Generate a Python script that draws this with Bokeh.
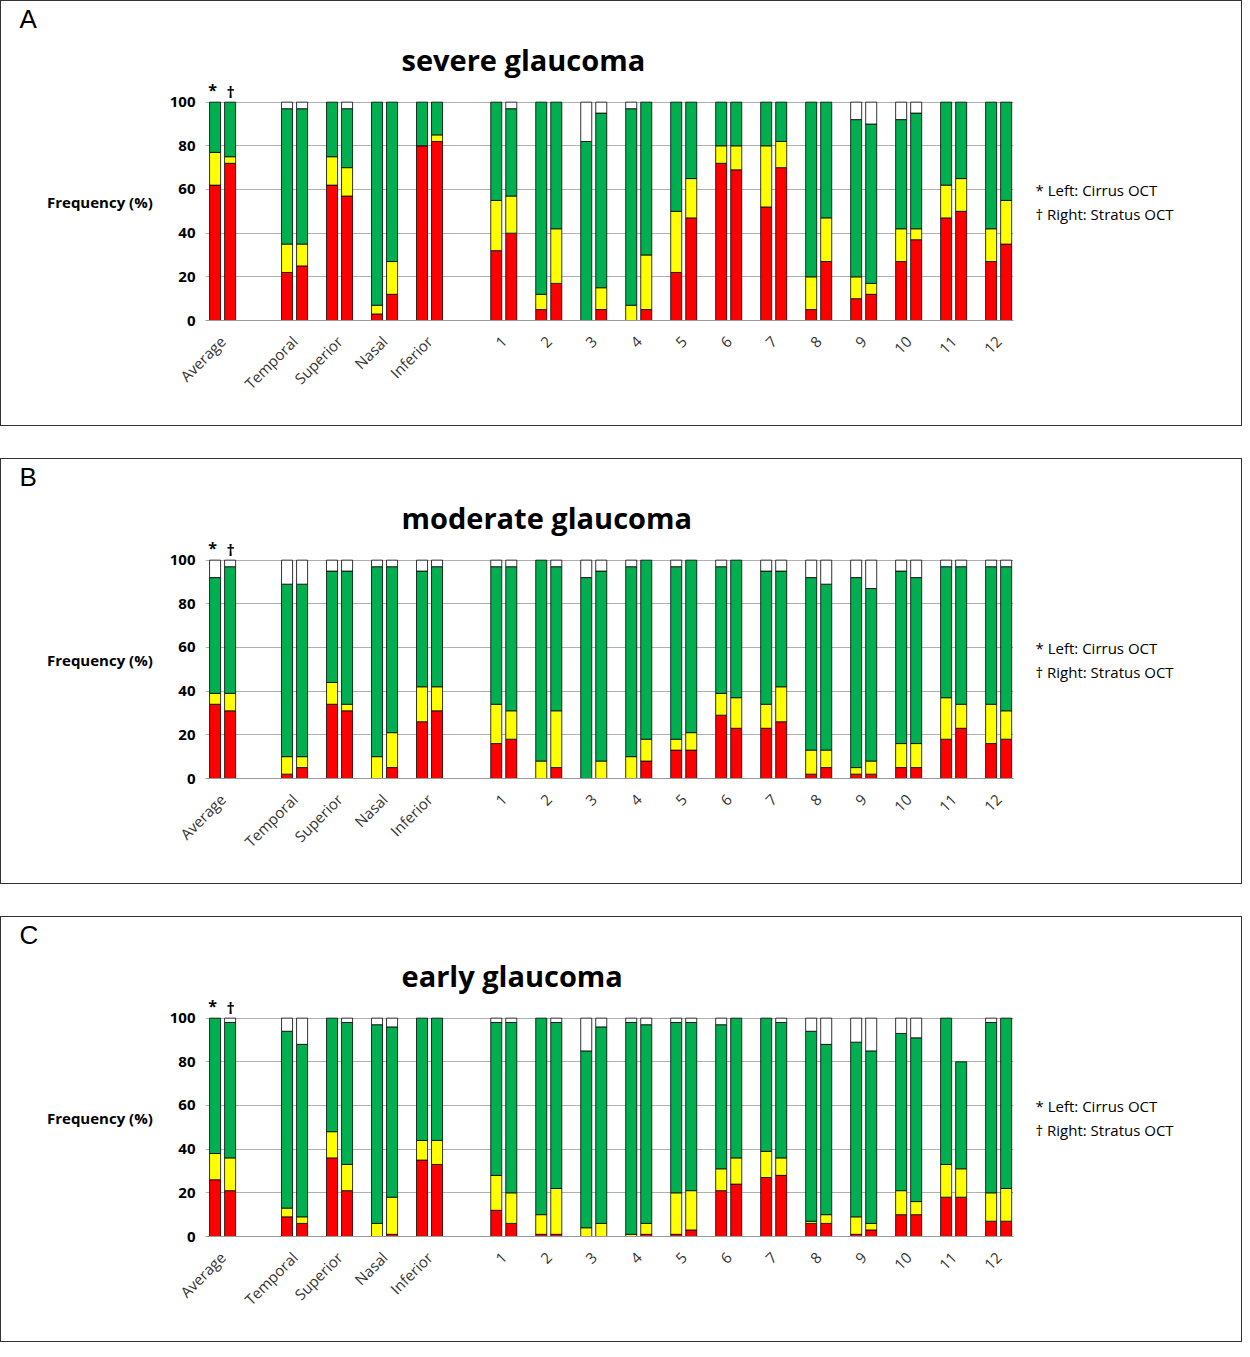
from bokeh.plotting import figure
from bokeh.layouts import column
from bokeh.models import ColumnDataSource, Label, FixedTicker, LinearAxis, Title
from bokeh.embed import file_html
from bokeh.resources import INLINE
import math

categories = ["Average", "Temporal", "Superior", "Nasal", "Inferior",
              "1", "2", "3", "4", "5", "6", "7", "8", "9", "10", "11", "12"]

# cumulative tops (%): red, red+yellow, red+yellow+green, total
sev_cir_red = [62, 22, 62, 3, 80, 32, 5, 0, 0, 22, 72, 52, 5, 10, 27, 47, 27]
sev_cir_ylw = [77, 35, 75, 7, 80, 55, 12, 0, 7, 50, 80, 80, 20, 20, 42, 62, 42]
sev_cir_grn = [100, 97, 100, 100, 100, 100, 100, 82, 97, 100, 100, 100, 100, 92, 92, 100, 100]
sev_str_red = [72, 25, 57, 12, 82, 40, 17, 5, 5, 47, 69, 70, 27, 12, 37, 50, 35]
sev_str_ylw = [75, 35, 70, 27, 85, 57, 42, 15, 30, 65, 80, 82, 47, 17, 42, 65, 55]
sev_str_grn = [100, 97, 97, 100, 100, 97, 100, 95, 100, 100, 100, 100, 100, 90, 95, 100, 100]

mod_cir_red = [34, 2, 34, 0, 26, 16, 0, 0, 0, 13, 29, 23, 2, 2, 5, 18, 16]
mod_cir_ylw = [39, 10, 44, 10, 42, 34, 8, 0, 10, 18, 39, 34, 13, 5, 16, 37, 34]
mod_cir_grn = [92, 89, 95, 97, 95, 97, 100, 92, 97, 97, 97, 95, 92, 92, 95, 97, 97]
mod_str_red = [31, 5, 31, 5, 31, 18, 5, 0, 8, 13, 23, 26, 5, 2, 5, 23, 18]
mod_str_ylw = [39, 10, 34, 21, 42, 31, 31, 8, 18, 21, 37, 42, 13, 8, 16, 34, 31]
mod_str_grn = [97, 89, 95, 97, 97, 97, 97, 95, 100, 100, 100, 95, 89, 87, 92, 97, 97]

ear_cir_red = [26, 9, 36, 0, 35, 12, 1, 0, 0, 1, 21, 27, 6, 1, 10, 18, 7]
ear_cir_ylw = [38, 13, 48, 6, 44, 28, 10, 4, 1, 20, 31, 39, 7, 9, 21, 33, 20]
ear_cir_grn = [100, 94, 100, 97, 100, 98, 100, 85, 98, 98, 97, 100, 94, 89, 93, 100, 98]
ear_str_red = [21, 6, 21, 1, 33, 6, 1, 0, 1, 3, 24, 28, 6, 3, 10, 18, 7]
ear_str_ylw = [36, 9, 33, 18, 44, 20, 22, 6, 6, 21, 36, 36, 10, 6, 16, 31, 22]
ear_str_grn = [98, 88, 98, 96, 100, 98, 98, 96, 97, 98, 100, 98, 88, 85, 91, 80, 100]
ear_str_tot = [100] * 15 + [80, 100]

xpos = [0, 1.6, 2.6, 3.6, 4.6] + [6.25 + i for i in range(12)]
colors = ["#ff0000", "#ffff00", "#00b050", "#ffffff"]


def panel(letter, title, cir, stra, cir_tot, str_tot):
    p = figure(width=1242, height=426, x_range=(-0.38, 17.58), y_range=(0, 109),
               output_backend="svg", toolbar_location=None,
               min_border_left=204, min_border_right=230,
               min_border_top=74, min_border_bottom=107)
    p.styles = {"border": "1px solid #333"}
    p.outline_line_color = None
    p.xgrid.grid_line_color = None
    p.ygrid.grid_line_color = "#b0b0b0"
    p.ygrid.ticker = FixedTicker(ticks=[20, 40, 60, 80, 100])
    for series, tot, off in ((cir, cir_tot, -0.167), (stra, str_tot, 0.167)):
        red, ylw, grn = series
        levels = [[0] * len(red), red, ylw, grn, tot]
        for k in range(4):
            xs, bs, ts = [], [], []
            for i in range(len(red)):
                if levels[k + 1][i] > levels[k][i]:
                    xs.append(xpos[i] + off)
                    bs.append(levels[k][i])
                    ts.append(levels[k + 1][i])
            src = ColumnDataSource(dict(x=xs, bottom=bs, top=ts))
            p.vbar(x="x", bottom="bottom", top="top", width=0.245, source=src,
                   fill_color=colors[k], line_color="black", line_width=0.8)
    p.xaxis.ticker = FixedTicker(ticks=xpos)
    p.xaxis.major_label_overrides = {x: c for x, c in zip(xpos, categories)}
    p.xaxis.major_label_orientation = math.pi / 4
    p.xaxis.major_label_text_font = "Open Sans"
    p.xaxis.major_label_text_font_size = "15px"
    p.xaxis.major_label_text_color = "#333"
    p.xaxis.major_tick_line_color = None
    p.xaxis.axis_line_color = "#999"
    p.xaxis.major_label_standoff = 12
    p.yaxis.ticker = FixedTicker(ticks=[0, 20, 40, 60, 80, 100])
    p.yaxis.axis_line_color = None
    p.yaxis.major_tick_line_color = None
    p.yaxis.minor_tick_line_color = None
    p.yaxis.major_label_text_font = "Open Sans"
    p.yaxis.major_label_text_font_style = "bold"
    p.yaxis.major_label_text_font_size = "15px"
    p.yaxis.major_label_text_color = "black"
    p.yaxis.major_label_standoff = 4
    p.yaxis.axis_label = "Frequency (%)"
    p.yaxis.axis_label_orientation = "horizontal"
    p.yaxis.axis_label_text_font = "Open Sans"
    p.yaxis.axis_label_text_font_style = "bold"
    p.yaxis.axis_label_text_font_size = "15px"
    p.yaxis.axis_label_text_color = "black"
    p.yaxis.axis_label_standoff = 14

    right = LinearAxis(ticker=FixedTicker(ticks=[]), axis_line_color=None,
                       major_tick_line_color=None, minor_tick_line_color=None,
                       axis_label="* Left: Cirrus OCT\n\u2020 Right: Stratus OCT",
                       axis_label_orientation="horizontal",
                       axis_label_text_font="Open Sans",
                       axis_label_text_font_style="normal",
                       axis_label_text_font_size="15px",
                       axis_label_text_color="black",
                       axis_label_standoff=22)
    p.add_layout(right, "right")

    p.add_layout(Title(text=title, align="left", offset=196, text_font="Open Sans",
                       text_font_size="29px", text_font_style="bold", text_color="black",
                       standoff=8), "above")
    p.add_layout(Title(text=letter, align="left", offset=-186, text_font="Liberation Sans",
                       text_font_size="26px", text_font_style="normal", text_color="black",
                       standoff=0), "above")

    for x, y, t in ((-0.22, 105.5, "*"), (0.18, 104.5, "\u2020")):
        p.add_layout(Label(x=x, y=y, text=t, text_font_size="16px", text_font_style="bold",
                           text_align="center", text_baseline="middle",
                           text_font="Open Sans", text_color="black"))
    return p


pa = panel("A", "severe glaucoma", (sev_cir_red, sev_cir_ylw, sev_cir_grn),
           (sev_str_red, sev_str_ylw, sev_str_grn), [100] * 17, [100] * 17)
pb = panel("B", "moderate glaucoma", (mod_cir_red, mod_cir_ylw, mod_cir_grn),
           (mod_str_red, mod_str_ylw, mod_str_grn), [100] * 17, [100] * 17)
pc = panel("C", "early glaucoma", (ear_cir_red, ear_cir_ylw, ear_cir_grn),
           (ear_str_red, ear_str_ylw, ear_str_grn), [100] * 17, ear_str_tot)

layout = column(pa, pb, pc, spacing=32)
open("out.html", "w").write(file_html(layout, INLINE))
